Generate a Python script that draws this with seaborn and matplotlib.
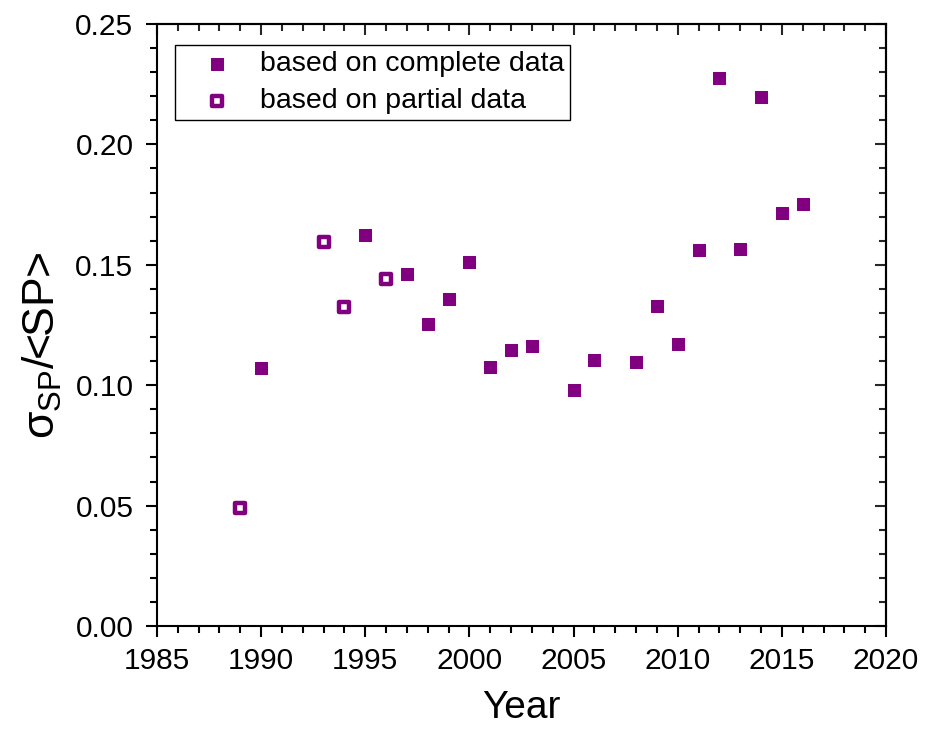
import matplotlib
matplotlib.use('Agg')
import matplotlib.pyplot as plt
from matplotlib.ticker import MultipleLocator, FormatStrFormatter
import seaborn as sns
import pandas as pd

# ---- data ----
complete_years = [1990, 1995, 1997, 1998, 1999, 2000, 2001, 2002, 2003, 2005,
                  2006, 2008, 2009, 2010, 2011, 2012, 2013, 2014, 2015, 2016]
complete_values = [0.1071, 0.1624, 0.1463, 0.1255, 0.1358, 0.1510, 0.1075, 0.1146,
                   0.1163, 0.0980, 0.1105, 0.1097, 0.1328, 0.1171, 0.1560, 0.2274,
                   0.1566, 0.2197, 0.1717, 0.1753]
partial_years = [1989, 1993, 1994, 1996]
partial_values = [0.0490, 0.1593, 0.1325, 0.1441]

label_complete = "based on complete data"
label_partial = "based on partial data"
x_ticks = [1985, 1990, 1995, 2000, 2005, 2010, 2015, 2020]
y_ticks = [0.00, 0.05, 0.10, 0.15, 0.20, 0.25]

df_c = pd.DataFrame({"Year": complete_years, "val": complete_values})
df_p = pd.DataFrame({"Year": partial_years, "val": partial_values})

sns.set_style("ticks")
plt.rcParams['font.family'] = ['Liberation Sans', 'DejaVu Sans']
plt.rcParams['mathtext.fontset'] = 'custom'
plt.rcParams['mathtext.rm'] = 'Liberation Sans'
plt.rcParams['text.color'] = 'black'
plt.rcParams['axes.labelcolor'] = 'black'

purple = "#800080"
fig = plt.figure(figsize=(9.26, 7.33), dpi=100)
ax = fig.add_axes([157/926, 107/733, 729/926, 602/733])

sns.scatterplot(data=df_c, x="Year", y="val", marker="s", s=76, color=purple,
                edgecolor=purple, linewidth=0.75, label=label_complete, ax=ax, zorder=3)
sns.scatterplot(data=df_p, x="Year", y="val", marker="s", s=48, facecolor="white",
                edgecolor=purple, linewidth=3.2, label=label_partial, ax=ax, zorder=3)

ax.set_xlim(1985, 2020)
ax.set_ylim(0, 0.25)
ax.set_xticks(x_ticks)
ax.set_yticks(y_ticks)
ax.xaxis.set_minor_locator(MultipleLocator(1))
ax.yaxis.set_minor_locator(MultipleLocator(0.01))
ax.yaxis.set_major_formatter(FormatStrFormatter('%.2f'))

for sp in ax.spines.values():
    sp.set_visible(True)
    sp.set_linewidth(1.5)
    sp.set_color('black')

ax.tick_params(which='major', direction='out', length=8, width=1.5, labelsize=21.5,
               color='black', labelcolor='black', pad=7)
ax.tick_params(axis='y', which='major', pad=9)
ax.tick_params(which='minor', direction='out', length=5, width=1.5, color='black')

# inward ticks on top and right
secx = ax.secondary_xaxis('top')
secx.set_xticks(x_ticks)
secx.xaxis.set_minor_locator(MultipleLocator(1))
secx.tick_params(which='major', direction='in', length=8, width=1.5, labeltop=False)
secx.tick_params(which='minor', direction='in', length=5, width=1.5)
secx.spines['top'].set_linewidth(1.5)
secy = ax.secondary_yaxis('right')
secy.set_yticks(y_ticks)
secy.yaxis.set_minor_locator(MultipleLocator(0.01))
secy.tick_params(which='major', direction='in', length=8, width=1.5, labelright=False)
secy.tick_params(which='minor', direction='in', length=5, width=1.5)
secy.spines['right'].set_linewidth(1.5)

ax.set_xlabel("Year", fontsize=28, labelpad=11, color='black')
ax.set_ylabel(r"$\mathregular{σ_{SP}}$/<SP>", fontsize=32, color='black')
ax.yaxis.set_label_coords(-0.128, (626 - 345) / 602)

leg = ax.legend(loc='upper left', bbox_to_anchor=(18/729, 1 - 21/602), borderaxespad=0,
                fontsize=20.5, frameon=True, fancybox=False, edgecolor='black',
                framealpha=1, borderpad=0.22, handlelength=2.5, handletextpad=0.25,
                labelspacing=0.38)
leg.get_frame().set_linewidth(1.0)
for t in leg.get_texts():
    t.set_color('black')

fig.savefig("out.png", dpi=100)
